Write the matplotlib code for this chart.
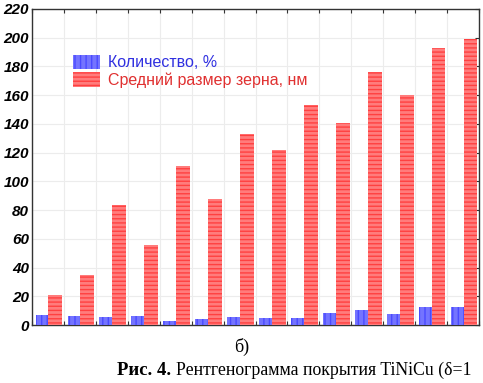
import numpy as np
import matplotlib.pyplot as plt

# values
share_pct = [7.4, 6.5, 5.5, 6.5, 3.2, 4.2, 5.5, 4.9, 4.9, 8.6, 10.4, 8.1, 12.7, 12.7]
grain_nm = [20.8, 34.7, 83.3, 55.5, 110.4, 88, 132.8, 121.5, 152.8, 140.4, 175.8, 160.4, 192.5, 199.2]
y_ticks = [0, 20, 40, 60, 80, 100, 120, 140, 160, 180, 200, 220]

plt.rcParams['hatch.linewidth'] = 1.0

fig = plt.figure(figsize=(4.83, 3.83), dpi=100)
ax = fig.add_axes([0.066, 0.151, 0.926, 0.826])

x = np.arange(len(grain_nm))
ax.bar(x - 0.184, share_pct, width=0.4, color='#7474ff', edgecolor='#4a4aff',
       hatch='|||', linewidth=0, label='Количество, %', zorder=3)
ax.bar(x + 0.232, grain_nm, width=0.43, color='#ff7c7c', edgecolor='#ff4040',
       hatch='----', linewidth=0, label='Средний размер зерна, нм', zorder=3)

ax.set_xlim(-0.5, len(grain_nm) - 0.5)
ax.set_ylim(0, 220)
ax.set_yticks(y_ticks)
ax.set_yticklabels([str(v) for v in y_ticks], fontfamily='Liberation Sans',
                   fontweight='bold', fontstyle='italic', fontsize=11)
ax.set_xticks(np.arange(-0.5, len(grain_nm), 1.0))
ax.set_xticklabels([])
ax.tick_params(axis='x', direction='in', length=3, top=True, bottom=True, color='#333333')
ax.tick_params(axis='y', direction='in', length=3, left=False, right=True,
               pad=2, color='#333333')
ax.grid(True, color='#ececec', linewidth=0.8, zorder=0)
for s in ax.spines.values():
    s.set_color('#333333')
    s.set_linewidth(1.0)

leg = ax.legend(loc='upper left', bbox_to_anchor=(0.06, 0.9), frameon=False,
                prop={'family': 'Liberation Sans', 'size': 11.5},
                handlelength=1.7, handleheight=1.0, handletextpad=0.5, labelspacing=0.12)
for t, c in zip(leg.get_texts(), ['#3030e0', '#e03030']):
    t.set_color(c)

fig.text(0.5, 0.095, 'б)', ha='center', va='center',
         fontfamily='Liberation Serif', fontsize=13)

# caption: bold label then plain text placed right after it
cap_y = 0.033
t1 = fig.text(117 / 483, cap_y, 'Рис. 4.', ha='left', va='center',
              fontfamily='Liberation Serif', fontweight='bold', fontsize=13.5)
fig.canvas.draw()
bb = t1.get_window_extent()
fig.text((bb.x1 + 5) / 483, cap_y, 'Рентгенограмма покрытия TiNiCu (δ=1', ha='left', va='center',
         fontfamily='Liberation Serif', fontsize=12.8)

fig.savefig('out.png', dpi=100)
